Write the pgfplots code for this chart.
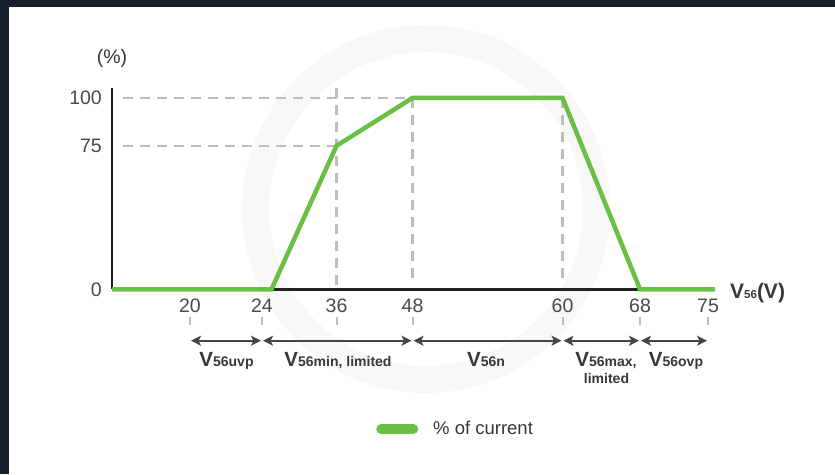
\documentclass[border=0pt]{standalone}
\usepackage{fontspec}
\setmainfont{Liberation Sans}
\usepackage{pgfplots}
\pgfplotsset{compat=1.18}
\usetikzlibrary{arrows.meta}

\definecolor{frame}{HTML}{17202A}
\definecolor{grn}{HTML}{6ABF45}
\definecolor{gridc}{HTML}{BDBDBD}
\definecolor{axisc}{HTML}{222222}
\definecolor{tickc}{HTML}{4A4A4A}
\definecolor{arrc}{HTML}{454545}
\definecolor{labc}{HTML}{383838}
\definecolor{wm}{HTML}{F8F8F8}

% label: big V, smaller bold index
\newcommand{\lab}[1]{{\fontsize{20.5}{22}\selectfont\bfseries V}{\fontsize{14}{16}\selectfont\bfseries #1}}
\tikzset{rng/.style={arrc, line width=2pt,
  {Stealth[length=10pt,width=10pt,inset=2.5pt]}-{Stealth[length=10pt,width=10pt,inset=2.5pt]},
  shorten <=1pt, shorten >=1pt}}

\begin{document}
\begin{tikzpicture}[x=1pt,y=1pt]
\fill[white] (0,0) rectangle (835,474);
\fill[frame] (0,467) rectangle (835,474);
\fill[frame] (0,0) rectangle (9,474);
% faint watermark ring
\draw[wm, line width=27pt] (426,265) circle (170.5);

\begin{axis}[
  at={(112pt,184.7pt)}, anchor=south west,
  scale only axis, width=603pt, height=201.3pt,
  xmin=112, xmax=715, ymin=0, ymax=105.2,
  axis lines*=left,
  axis line style={line width=2.5pt, draw=axisc},
  xtick={190,262,336.5,412.5,562.5,640,708},
  xticklabels={20,24,36,48,60,68,75},
  ytick={0,75,100},
  major tick length=0pt,
  tick style={draw=none},
  /pgf/number format/assume math mode=true,
  ticklabel style={font=\fontsize{19.5}{22}\selectfont, text=tickc},
  xticklabel style={anchor=center, yshift=-16.7pt, inner sep=0pt},
  yticklabel style={anchor=east, xshift=-10pt, inner sep=0pt},
  clip=false,
  legend style={at={(axis description cs:0.4378,-0.694)}, anchor=west,
    draw=none, fill=none, inner sep=0pt,
    font=\fontsize{18.5}{20}\selectfont, text=labc,
    /tikz/every odd column/.append style={column sep=13pt}},
  legend image code/.code={\draw[line width=10pt, line cap=round, color=grn] (0pt,0pt) -- (32pt,0pt);},
]
% guide lines
\addplot[forget plot, gridc, line width=2.2pt, dash pattern=on 10pt off 7pt] coordinates {(123,100) (412.5,100)};
\addplot[forget plot, gridc, line width=2.2pt, dash pattern=on 10pt off 7pt] coordinates {(123,75) (336.5,75)};
\addplot[forget plot, gridc, line width=2.2pt, dash pattern=on 10pt off 7pt] coordinates {(336.5,105.2) (336.5,0)};
\addplot[forget plot, gridc, line width=2.2pt, dash pattern=on 10pt off 7pt] coordinates {(412.5,100) (412.5,4.9)};
\addplot[forget plot, gridc, line width=2.2pt, dash pattern=on 10pt off 7pt] coordinates {(562.5,100) (562.5,5.9)};

% % of current
\addplot[grn, line width=4.5pt, line join=miter] coordinates {
  (112,0) (271.5,0) (336.5,75) (412.5,100) (562.5,100) (640,0) (715,0)
};
\addlegendentry{\% of current}

% small marks under the tick labels
\pgfplotsinvokeforeach{190,262,336.5,412.5,562.5,640,708}{
  \draw[gridc, line width=2pt] (axis cs:#1,-14.5) -- (axis cs:#1,-18.7);
}

% range arrows
\draw[rng] (axis cs:190,-26.86) -- (axis cs:262,-26.86);
\draw[rng] (axis cs:262,-26.86) -- (axis cs:412.5,-26.86);
\draw[rng] (axis cs:412.5,-26.86) -- (axis cs:562.5,-26.86);
\draw[rng] (axis cs:562.5,-26.86) -- (axis cs:640,-26.86);
\draw[rng] (axis cs:640,-26.86) -- (axis cs:708,-26.86);

% range labels
\node[text=labc, anchor=base, inner sep=0pt] at (axis cs:226.5,-40.45) {\lab{56uvp}};
\node[text=labc, anchor=base, inner sep=0pt] at (axis cs:338,-40.45) {\lab{56min, limited}};
\node[text=labc, anchor=base, inner sep=0pt] at (axis cs:486,-40.45) {\lab{56n}};
\node[text=labc, anchor=base, inner sep=0pt] at (axis cs:606,-40.45) {\lab{56max,}};
\node[text=labc, anchor=base, inner sep=0pt, font=\fontsize{14}{16}\selectfont\bfseries] at (axis cs:606.5,-49.1) {limited};
\node[text=labc, anchor=base, inner sep=0pt] at (axis cs:676,-40.45) {\lab{56ovp}};

% axis titles
\node[text=labc, anchor=base west, inner sep=0pt] at (axis cs:730,-4.7)
  {{\fontsize{21}{22}\selectfont\bfseries V}{\fontsize{11.5}{12}\selectfont\bfseries 56}{\fontsize{21}{22}\selectfont\bfseries (V)}};
\node[text=labc, inner sep=0pt, font=\fontsize{19.5}{22}\selectfont] at (axis cs:112,120.4) {(\%)};
\end{axis}
\pgfresetboundingbox
\useasboundingbox (0,0) rectangle (835,474);
\end{tikzpicture}
\end{document}
